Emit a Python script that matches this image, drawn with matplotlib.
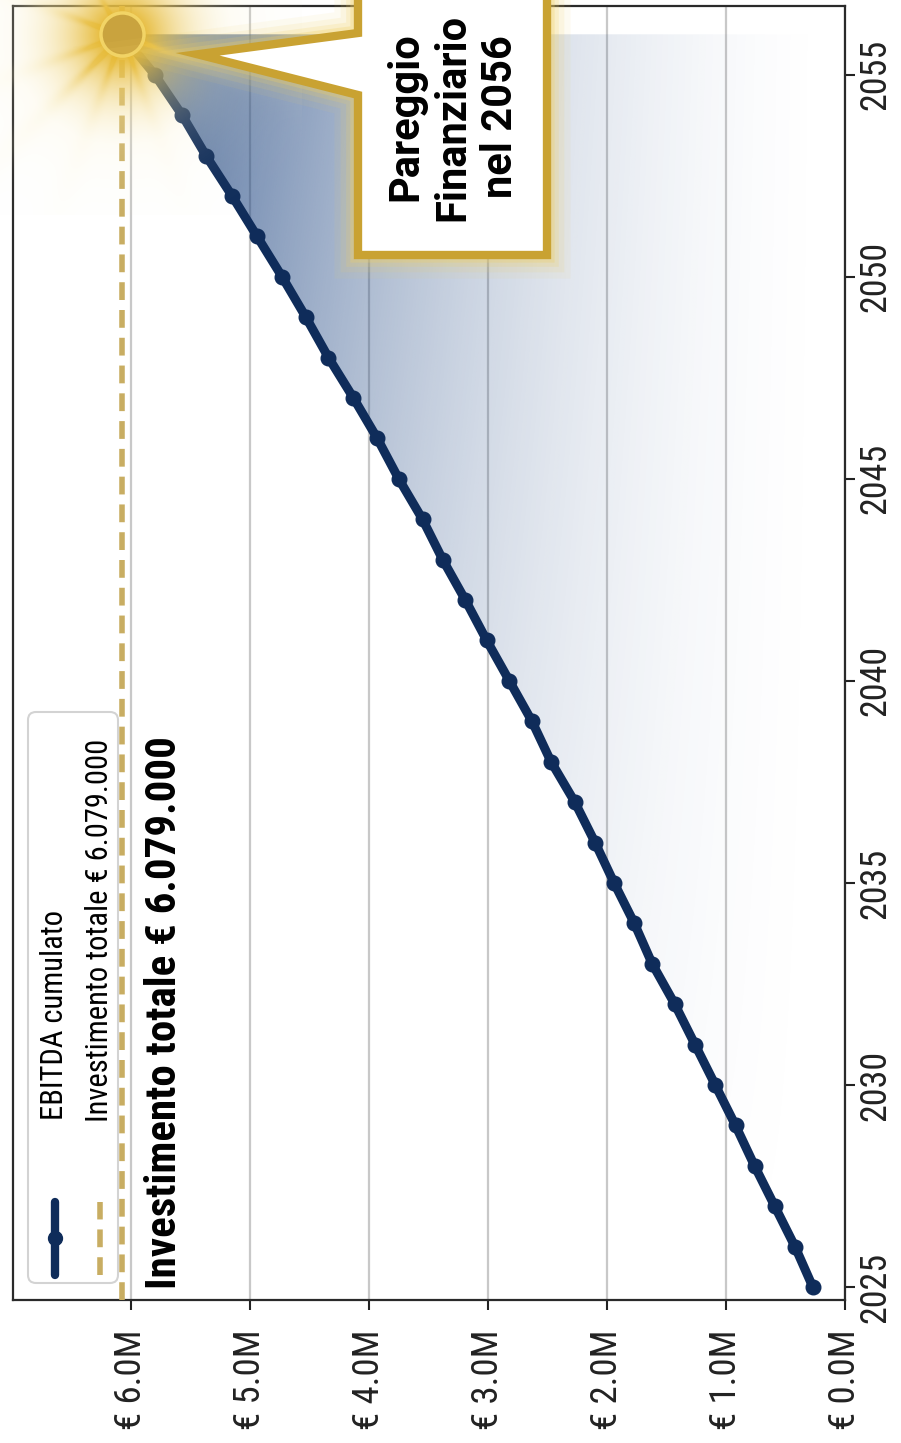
import numpy as np
import matplotlib
matplotlib.use("Agg")
import matplotlib.pyplot as plt
from matplotlib import font_manager
from matplotlib.patches import Polygon, FancyBboxPatch
from matplotlib.lines import Line2D
from matplotlib.transforms import IdentityTransform
from matplotlib.colors import to_rgb

# cumulated EBITDA per year, in millions of euro
anni = list(range(2025, 2057))
ebitda_cumulato = [0.27, 0.42, 0.59, 0.76, 0.92, 1.09, 1.26, 1.43, 1.62, 1.77,
                   1.94, 2.10, 2.27, 2.47, 2.63, 2.82, 3.01, 3.19, 3.38, 3.55,
                   3.75, 3.93, 4.13, 4.34, 4.53, 4.73, 4.94, 5.15, 5.37, 5.57,
                   5.80, 6.08]
investimento_totale = 6.079
anno_pareggio = 2056

tick_anni = [2025, 2030, 2035, 2040, 2045, 2050, 2055]
tick_valori = [0, 1, 2, 3, 4, 5, 6]
tick_valori_label = ["€ 0.0M", "€ 1.0M", "€ 2.0M", "€ 3.0M", "€ 4.0M", "€ 5.0M", "€ 6.0M"]

label_ebitda = "EBITDA cumulato"
label_invest = "Investimento totale € 6.079.000"
testo_pareggio = "Pareggio\nFinanziario\nnel 2056"

NAVY = "#0f2c5a"
SHADE = "#1f4682"
GOLD = "#c9a232"
GOLD_DASH = "#c8ad62"


def pick_font(names):
    available = {f.name for f in font_manager.fontManager.ttflist}
    for n in names:
        if n in available:
            return n
    return "DejaVu Sans"


COND = pick_font(["Roboto Condensed", "Liberation Sans Narrow", "Arial Narrow", "DejaVu Sans"])
BOLD = pick_font(["Roboto", "Liberation Sans", "DejaVu Sans"])

W, H = 901, 1443
fig = plt.figure(figsize=(W / 100, H / 100), dpi=100)


def px_box(x0, y0, x1, y1):
    return [x0 / W, 1 - y1 / H, (x1 - x0) / W, (y1 - y0) / H]


# the chart is laid out sideways: values run right-to-left, years bottom-to-top
ax = fig.add_axes(px_box(13, 6, 845, 1300))
xmax = investimento_totale * 1.15

# gradient under the curve, stronger toward high values and later years
vmax = max(ebitda_cumulato)
xs = np.linspace(0, xmax, 400)
ys = np.linspace(anni[0], anni[-1], 200)
gx, gy = np.meshgrid(xs, ys)
alpha = 0.85 * np.clip(gx / vmax, 0, 1) ** 1.8 * ((gy - anni[0]) / (anni[-1] - anni[0])) ** 0.5
rgba = np.zeros(gx.shape + (4,))
rgba[..., :3] = to_rgb(SHADE)
rgba[..., 3] = alpha
im = ax.imshow(rgba, extent=[0, xmax, anni[0], anni[-1]], aspect="auto",
               origin="lower", interpolation="bilinear", zorder=2)
area = ax.fill_betweenx(anni, 0, ebitda_cumulato, facecolor="none", edgecolor="none")
im.set_clip_path(area.get_paths()[0], transform=ax.transData)

ax.axvline(investimento_totale, color=GOLD_DASH, lw=4, ls=(0, (3.2, 1.8)), zorder=3)
ax.plot(ebitda_cumulato, anni, color=NAVY, lw=6.5, marker="o", ms=10.5,
        solid_capstyle="round", zorder=5)

ax.set_xlim(xmax, 0)
ax.set_ylim(2024.68, 2056.7)

ax.grid(axis="x", color="#c8c8c8", lw=1.6)
ax.set_axisbelow(True)
for s in ax.spines.values():
    s.set_color("#2a2a2a")
    s.set_linewidth(1.6)

ax.yaxis.tick_right()
ax.set_yticks(tick_anni)
ax.set_yticklabels([str(a) for a in tick_anni], rotation=90, va="center",
                   fontsize=26, family=COND, fontstretch="condensed")
ax.set_xticks(tick_valori)
ax.set_xticklabels(tick_valori_label, rotation=90, ha="center", va="top",
                   fontsize=26.5, family=COND, fontstretch="condensed")
ax.tick_params(axis="y", length=7, width=1.5, pad=2, colors="#222222")
ax.tick_params(axis="x", length=7, width=1.5, pad=14, colors="#222222")

ax.text(investimento_totale - 0.36, anni[0] - 0.05, label_invest, rotation=90,
        ha="center", va="bottom", fontsize=31, fontweight="bold",
        family=COND, fontstretch="condensed", zorder=6)

# break-even marker: radial glow with a few soft rays, then the gold dot
cx, cy = ax.transData.transform((investimento_totale, anno_pareggio))
half = 180
yy, xx = np.mgrid[-half:half, -half:half].astype(float)
r = np.hypot(xx, yy)
theta = np.degrees(np.arctan2(yy, xx))
glow = 0.97 * np.exp(-((np.clip(r - 18, 0, None)) / 62.0) ** 1.35)
for ang, strength in [(135, 0.5), (160, 0.35), (200, 0.35), (110, 0.3),
                      (240, 0.25), (20, 0.25), (70, 0.25)]:
    d = np.abs((theta - ang + 180) % 360 - 180)
    glow = glow + strength * np.exp(-(d / 5.0) ** 2) * np.exp(-r / 90.0)
glow = np.clip(glow, 0, 1)
inner = np.array(to_rgb("#e6b934"))
outer = np.array(to_rgb("#fbf0c6"))
mix = np.clip((r - 20) / 90.0, 0, 1)[..., None]
glow_img = np.zeros((2 * half, 2 * half, 4))
glow_img[..., :3] = inner * (1 - mix) + outer * mix
glow_img[..., 3] = glow
fig.figimage(glow_img, xo=int(cx - half), yo=int(cy - half), origin="upper", zorder=6)
fig.add_artist(Line2D([cx], [cy], transform=IdentityTransform(), marker="o",
                      ms=31, mfc="#c9a33e", mec="#f2d466", mew=2.5, zorder=7))

# callout box with a pointer toward the marker
tip = (cx + 76, cy - 20)
box_l, box_r, box_t, box_b = 358, 547, -20, 255
verts = [(box_l, box_t), (box_r, box_t), (box_r, box_b), (box_l, box_b),
         (box_l, 95), (tip[0], H - tip[1]), (box_l, 33)]
verts = [(x, H - y) for x, y in verts]
for lw, a in [(34, 0.08), (25, 0.12), (17, 0.18), (11, 0.28)]:
    fig.add_artist(Polygon(verts, closed=True, transform=IdentityTransform(),
                           fc="none", ec="#f0cf62", lw=lw, alpha=a,
                           joinstyle="miter", zorder=9))
fig.add_artist(Polygon(verts, closed=True, transform=IdentityTransform(),
                       fc="white", ec=GOLD, lw=6, joinstyle="miter", zorder=10))
fig.text(453 / W, 1 - 117 / H, testo_pareggio, rotation=90, ha="center",
         va="center", multialignment="center", fontsize=30, fontweight="bold",
         family=BOLD, linespacing=1.2, zorder=11)

# legend, built by hand so that it follows the sideways layout
frame = FancyBboxPatch((28, H - 1283), 90, 571,
                       boxstyle="round,pad=0,rounding_size=8",
                       transform=IdentityTransform(), fc="white", ec="#cfcfcf",
                       lw=1.5, alpha=0.9, zorder=8)
fig.add_artist(frame)
fig.add_artist(Line2D([55, 55, 55], [H - 1275, H - 1238, H - 1202],
                      transform=IdentityTransform(), color=NAVY, lw=6,
                      marker="o", ms=10, markevery=[1],
                      solid_capstyle="round", zorder=9))
fig.add_artist(Line2D([100, 100], [H - 1275, H - 1202],
                      transform=IdentityTransform(), color=GOLD_DASH, lw=4,
                      ls=(0, (3.2, 1.8)), zorder=9))
fig.text(55 / W, 1 - 1120 / H, label_ebitda, rotation=90, ha="center",
         va="bottom", fontsize=22, family=COND, fontstretch="condensed", zorder=9)
fig.text(100 / W, 1 - 1122 / H, label_invest, rotation=90, ha="center",
         va="bottom", fontsize=22, family=COND, fontstretch="condensed", zorder=9)

fig.savefig("out.png", dpi=100)
